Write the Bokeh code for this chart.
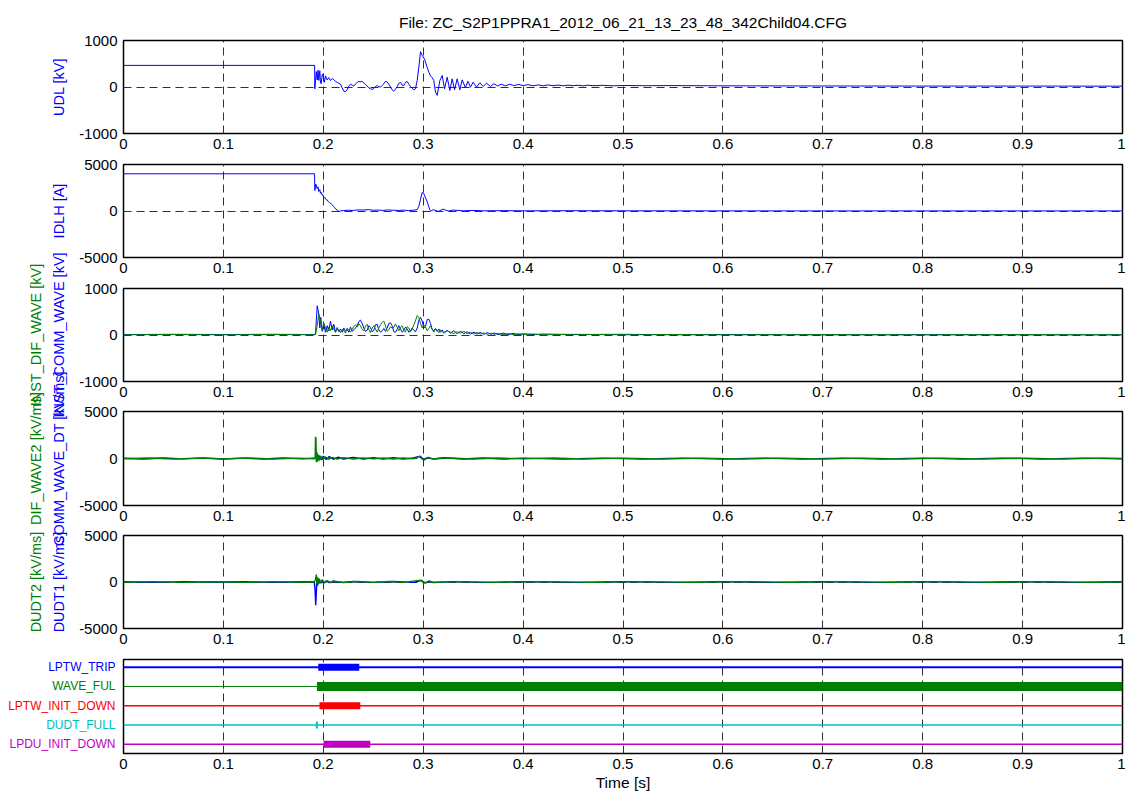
import math
from bokeh.plotting import figure
from bokeh.layouts import column, row
from bokeh.models import Range1d, FixedTicker
from bokeh.core.properties import value
from bokeh.embed import file_html
from bokeh.resources import INLINE

FONT = "Liberation Sans"

# ---------------- data ----------------
title_text = "File: ZC_S2P1PPRA1_2012_06_21_13_23_48_342Child04.CFG"
x_ticks = [0, 0.1, 0.2, 0.3, 0.4, 0.5, 0.6, 0.7, 0.8, 0.9, 1.0]
x_tick_labels = ["0", "0.1", "0.2", "0.3", "0.4", "0.5", "0.6", "0.7", "0.8", "0.9", "1"]
y_ticks_kv = [-1000, 0, 1000]
y_labels_kv = ["-1000", "0", "1000"]
y_ticks_5k = [-5000, 0, 5000]
y_labels_5k = ["-5000", "0", "5000"]

# Panel 1: UDL [kV]
udl = [(0, 465), (0.1913, 465), (0.1915, -40), (0.1922, 120), (0.1930, 330), (0.1939, 150),
       (0.1947, 360), (0.1955, 140), (0.1965, 350), (0.1972, 90), (0.1979, 70), (0.1990, 280),
       (0.1999, 250), (0.2010, 100), (0.2022, 240), (0.2039, 150), (0.2055, 200), (0.2072, 140),
       (0.2089, 180), (0.2105, 160), (0.2122, 120), (0.2139, 100), (0.2156, 80), (0.2172, 60),
       (0.2189, -20), (0.2206, -90), (0.2222, -100), (0.2239, -60), (0.2256, 20), (0.2272, 60),
       (0.2289, 40), (0.2306, 20), (0.2322, 60), (0.2339, 100), (0.2356, 120), (0.2372, 110),
       (0.2389, 120), (0.2406, 90), (0.2422, 60), (0.2439, 20), (0.2456, -20), (0.2472, -40),
       (0.2489, -50), (0.2506, -30), (0.2522, 10), (0.2539, 30), (0.2556, 10), (0.2573, 0),
       (0.2589, 30), (0.2606, 70), (0.2622, 120), (0.2639, 110), (0.2656, 60), (0.2673, 0),
       (0.2689, -60), (0.2706, -90), (0.2722, -50), (0.2739, 10), (0.2756, 80), (0.2773, 100),
       (0.2789, 40), (0.2806, 30), (0.2822, 100), (0.2839, 120), (0.2856, 60), (0.2873, 10),
       (0.2889, -30), (0.2906, -60), (0.2922, -40), (0.2940, 140), (0.2956, 420), (0.2973, 760),
       (0.2990, 680), (0.3013, 600), (0.3040, 420), (0.3056, 320), (0.3073, 240), (0.3090, 200),
       (0.3106, 140), (0.3123, -110), (0.3140, -180), (0.3167, 140), (0.3190, 247), (0.3214, -39),
       (0.3240, 211), (0.3267, -75), (0.3290, 176), (0.3314, -61), (0.3340, 176), (0.3367, -61),
       (0.3390, 154), (0.3423, -18), (0.3447, 125), (0.3473, -4), (0.3500, 104), (0.3534, -4),
       (0.3567, 90), (0.3600, 11), (0.3634, 82), (0.3674, 11), (0.3707, 68), (0.3747, 20),
       (0.3780, 61), (0.3824, 25), (0.3867, 61), (0.3907, 30), (0.3957, 55), (0.40, 30),
       (0.405, 50), (0.41, 25), (0.415, 45), (0.42, 25), (0.425, 45), (0.43, 28), (0.435, 42),
       (0.44, 25), (0.445, 40), (0.45, 28), (0.455, 38), (0.46, 25), (0.465, 38), (0.47, 28),
       (0.48, 36), (0.49, 25), (0.50, 32), (0.52, 28), (0.55, 30), (0.6, 25), (0.7, 22),
       (0.8, 20), (0.9, 20), (1.0, 18)]

# Panel 2: IDLH [A]
idlh = [(0, 4000), (0.1913, 4000), (0.1915, 2200), (0.1925, 2900), (0.1939, 2400), (0.1947, 2600),
        (0.1955, 2100), (0.1965, 2300), (0.1972, 1900), (0.1980, 2000), (0.1989, 1700), (0.1997, 1750),
        (0.2005, 1400), (0.2014, 1500), (0.2022, 1300), (0.2030, 1200), (0.2039, 1200), (0.2050, 1000),
        (0.2061, 900), (0.2072, 850), (0.2085, 700), (0.2095, 600), (0.2105, 500), (0.2115, 350),
        (0.2125, 200), (0.2139, 100), (0.2156, -50), (0.2175, 20), (0.22, 50), (0.225, 80),
        (0.23, 60), (0.235, 120), (0.24, 100), (0.245, 150), (0.25, 80), (0.255, 100), (0.26, 60),
        (0.265, 120), (0.27, 80), (0.275, 60), (0.28, 90), (0.285, 50), (0.29, 80), (0.2940, 150),
        (0.2956, 500), (0.2972, 1200), (0.2990, 2000), (0.3005, 1900), (0.3020, 1500), (0.3040, 1000),
        (0.3055, 500), (0.3066, 130), (0.3080, 0), (0.31, 150), (0.315, -50), (0.32, 200),
        (0.325, 0), (0.33, 100), (0.34, 20), (0.35, 60), (0.36, 20), (0.38, 40), (0.40, 20),
        (0.45, 30), (0.5, 20), (0.6, 15), (0.7, 10), (0.8, 10), (0.9, 10), (1.0, 10)]

# Panel 3: INST_COMM_WAVE (blue) / INST_DIF_WAVE (green) [kV]
inst_comm = [(0, 10), (0.05, 15), (0.1, 10), (0.15, 15), (0.19, 10), (0.1922, 20), (0.1939, 630),
             (0.1955, 450), (0.1965, 150), (0.1975, 380), (0.1989, 80), (0.2005, 230), (0.2022, 60),
             (0.2039, 200), (0.2055, 90), (0.2072, 300), (0.2089, 110), (0.2105, 230), (0.2122, 60),
             (0.2139, 160), (0.2156, 70), (0.2172, 130), (0.2189, 60), (0.2206, 150), (0.2222, 80),
             (0.2239, 120), (0.2256, 60), (0.2272, 170), (0.2289, 80), (0.2306, 110), (0.2322, 150),
             (0.2339, 200), (0.2356, 290), (0.2372, 320), (0.2389, 250), (0.2406, 150), (0.2422, 80),
             (0.2439, 100), (0.2456, 200), (0.2472, 160), (0.2489, 70), (0.2506, 100), (0.2522, 220),
             (0.2539, 230), (0.2556, 110), (0.2573, 60), (0.2589, 90), (0.2606, 140), (0.2622, 80),
             (0.2639, 150), (0.2656, 250), (0.2673, 260), (0.2689, 200), (0.2706, 70), (0.2722, 60),
             (0.2739, 120), (0.2756, 200), (0.2773, 130), (0.2789, 60), (0.2806, 100), (0.2822, 170),
             (0.2839, 130), (0.2856, 60), (0.2873, 90), (0.2889, 150), (0.2906, 100), (0.2922, 70),
             (0.2940, 150), (0.2957, 320), (0.2973, 380), (0.2990, 300), (0.3006, 150), (0.3023, 180),
             (0.3040, 330), (0.3057, 340), (0.3073, 250), (0.3090, 120), (0.3106, 90), (0.3123, 140),
             (0.3140, 80), (0.3157, 130), (0.3173, 60), (0.3190, 110), (0.3206, 50), (0.3240, 100),
             (0.3273, 40), (0.3307, 90), (0.3340, 30), (0.3373, 80), (0.3407, 30), (0.3440, 70),
             (0.3473, 20), (0.3507, 60), (0.354, 20), (0.357, 55), (0.361, 15), (0.364, 50),
             (0.368, 15), (0.371, 45), (0.375, 10), (0.38, 40), (0.385, 10), (0.39, 35), (0.395, 10),
             (0.40, 25), (0.41, 10), (0.42, 20), (0.45, 10), (0.5, 15), (0.55, 5), (0.6, 10),
             (0.7, 5), (0.8, 8), (0.9, 5), (1.0, 5)]
inst_dif = [(0, 5), (0.05, 10), (0.1, 5), (0.15, 10), (0.19, 5), (0.1922, 10), (0.1939, 200),
            (0.1955, 450), (0.1972, 300), (0.1989, 100), (0.2005, 260), (0.2022, 150), (0.2039, 60),
            (0.2055, 170), (0.2072, 90), (0.2089, 200), (0.2105, 120), (0.2122, 60), (0.2139, 140),
            (0.2156, 100), (0.2172, 50), (0.2189, 120), (0.2206, 90), (0.2222, 40), (0.2239, 150),
            (0.2256, 100), (0.2272, 60), (0.2289, 120), (0.2306, 180), (0.2322, 220), (0.2339, 170),
            (0.2356, 240), (0.2372, 200), (0.2389, 120), (0.2406, 90), (0.2422, 190), (0.2439, 230),
            (0.2456, 120), (0.2472, 50), (0.2489, 150), (0.2506, 200), (0.2522, 130), (0.2539, 60),
            (0.2556, 150), (0.2573, 220), (0.2589, 270), (0.2606, 300), (0.2622, 200), (0.2639, 80),
            (0.2656, 110), (0.2673, 180), (0.2689, 150), (0.2706, 160), (0.2722, 240), (0.2739, 170),
            (0.2756, 90), (0.2773, 170), (0.2789, 200), (0.2806, 100), (0.2822, 60), (0.2839, 180),
            (0.2856, 150), (0.2873, 70), (0.2889, 130), (0.2906, 220), (0.2922, 300), (0.2940, 420),
            (0.2957, 380), (0.2973, 250), (0.2990, 150), (0.3006, 220), (0.3023, 170), (0.3040, 90),
            (0.3057, 140), (0.3073, 200), (0.3090, 120), (0.3106, 60), (0.3123, 130), (0.3140, 110),
            (0.3157, 50), (0.3173, 110), (0.3190, 80), (0.3206, 40), (0.3240, 90), (0.3273, 60),
            (0.3307, 30), (0.3340, 70), (0.3373, 40), (0.3407, 80), (0.3440, 30), (0.3473, 60),
            (0.3507, 20), (0.354, 55), (0.357, 20), (0.361, 45), (0.364, 15), (0.368, 40),
            (0.371, 15), (0.375, 35), (0.38, 10), (0.385, 30), (0.39, 10), (0.395, 25), (0.40, 10),
            (0.41, 20), (0.42, 5), (0.45, 15), (0.5, 5), (0.55, 10), (0.6, 5), (0.7, 8), (0.8, 5),
            (0.9, 8), (1.0, 5)]

# Panel 4: COMM_WAVE_DT (blue) / DIF_WAVE2 (green) [kV/ms]
comm_wave_dt = [(0, 30), (0.02, -60), (0.04, 50), (0.06, -40), (0.08, 60), (0.10, -50), (0.12, 40),
                (0.14, -60), (0.16, 50), (0.18, -40), (0.19, 40), (0.1925, 0), (0.1932, 700),
                (0.1938, -300), (0.1945, 400), (0.1955, -200), (0.1965, 300), (0.198, -150), (0.2, 250),
                (0.203, -100), (0.206, 200), (0.21, -80), (0.215, 150), (0.22, -60), (0.23, 100),
                (0.24, -60), (0.25, 80), (0.26, -50), (0.27, 80), (0.28, -60), (0.29, 60), (0.297, 250),
                (0.301, -150), (0.305, 120), (0.31, -60), (0.32, 80), (0.34, -50), (0.36, 60),
                (0.38, -50), (0.40, 40), (0.44, -50), (0.48, 40), (0.52, -50), (0.56, 40), (0.60, -50),
                (0.64, 40), (0.68, -50), (0.72, 40), (0.76, -50), (0.80, 40), (0.84, -50), (0.88, 40),
                (0.92, -50), (0.96, 40), (1.0, -30)]
dif_wave2 = [(0, -30), (0.025, 50), (0.05, -50), (0.075, 40), (0.10, -40), (0.125, 50), (0.15, -50),
             (0.175, 40), (0.19, -30), (0.1918, 0), (0.1922, 2300), (0.1927, 2100), (0.1931, -400),
             (0.1937, 600), (0.1944, -300), (0.1952, 400), (0.196, -200), (0.1975, 250), (0.199, -120),
             (0.202, 180), (0.205, -80), (0.209, 120), (0.214, -60), (0.22, 90), (0.23, -50),
             (0.24, 70), (0.25, -40), (0.26, 60), (0.27, -50), (0.28, 60), (0.29, -40), (0.296, 200),
             (0.3, -120), (0.304, 100), (0.31, -50), (0.325, 60), (0.35, -50), (0.375, 50), (0.40, -40),
             (0.43, 50), (0.46, -50), (0.50, 40), (0.54, -50), (0.58, 40), (0.62, -50), (0.66, 40),
             (0.70, -50), (0.74, 40), (0.78, -50), (0.82, 40), (0.86, -50), (0.90, 40), (0.94, -50),
             (0.98, 40), (1.0, 0)]

# Panel 5: DUDT1 (blue) / DUDT2 (green) [kV/ms]
dudt1 = [(0, 20), (0.03, -40), (0.06, 40), (0.09, -30), (0.12, 40), (0.15, -40), (0.18, 30),
         (0.191, 0), (0.1918, -900), (0.1924, -2500), (0.1930, -1200), (0.1936, 300), (0.1943, -400),
         (0.195, 200), (0.196, -100), (0.198, 150), (0.2, -80), (0.203, 100), (0.206, -60),
         (0.21, 80), (0.22, -40), (0.23, 60), (0.25, -40), (0.27, 50), (0.29, -40), (0.298, 150),
         (0.302, -100), (0.306, 80), (0.31, -50), (0.33, 40), (0.36, -40), (0.40, 40), (0.45, -40),
         (0.50, 40), (0.55, -40), (0.60, 40), (0.65, -40), (0.70, 40), (0.75, -40), (0.80, 40),
         (0.85, -40), (0.90, 40), (0.95, -40), (1.0, 20)]
dudt2 = [(0, -20), (0.03, 40), (0.06, -40), (0.09, 30), (0.12, -40), (0.15, 40), (0.18, -30),
         (0.191, 0), (0.1922, 300), (0.1930, 800), (0.1937, -300), (0.1945, 500), (0.1953, -200),
         (0.196, 350), (0.1975, -150), (0.199, 250), (0.201, -100), (0.204, 150), (0.207, -60),
         (0.21, 100), (0.22, -50), (0.235, 60), (0.25, -40), (0.265, 50), (0.28, -40), (0.298, 200),
         (0.302, -120), (0.306, 90), (0.31, -40), (0.34, 40), (0.37, -40), (0.42, 40), (0.47, -40),
         (0.52, 40), (0.57, -40), (0.62, 40), (0.67, -40), (0.72, 40), (0.77, -40), (0.82, 40),
         (0.87, -40), (0.92, 40), (0.97, -40), (1.0, 0)]

# Panel 6: digital channels
dig_names = ["LPTW_TRIP", "WAVE_FUL", "LPTW_INIT_DOWN", "DUDT_FULL", "LPDU_INIT_DOWN"]
dig_levels = [5, 4, 3, 2, 1]
dig_on_start = [0.1950, 0.1936, 0.1962, 0.1925, 0.2003]
dig_on_end = [0.2360, 1.0, 0.2370, 0.1945, 0.2470]

# ---------------- styles ----------------
BLUE = "#0000ff"
GREEN = "#008000"
dig_colors = ["#0000ff", "#008000", "#ff0000", "#00bfbf", "#bf00bf"]
dig_thin = [2, 1, 1.5, 1.5, 1.5]
dig_thick = [7, 9, 7, 7, 7]
TICK_FS = "15px"
GRID_DASH = "8 5"
GRID_COLOR = "#303030"


def unzip(pairs):
    return [a for a, _ in pairs], [b for _, b in pairs]


def style_common(p):
    p.background_fill_color = "white"
    p.border_fill_color = "white"
    p.outline_line_color = "black"
    p.outline_line_width = 1.5
    p.outline_line_alpha = 1.0
    for ax in p.axis:
        ax.axis_line_color = None
        ax.major_tick_line_color = None
        ax.minor_tick_line_color = None
        ax.major_tick_out = 0
        ax.major_tick_in = 0
        ax.minor_tick_out = 0
        ax.minor_tick_in = 0
        ax.major_label_text_font = FONT
        ax.major_label_text_font_size = TICK_FS
        ax.major_label_text_color = "black"
    p.xaxis.ticker = FixedTicker(ticks=x_ticks)
    p.xaxis.major_label_overrides = {t: s for t, s in zip(x_ticks, x_tick_labels)}
    p.xaxis.major_label_standoff = 5
    p.xgrid.grid_line_color = GRID_COLOR
    p.xgrid.grid_line_dash = GRID_DASH
    p.xgrid.grid_line_width = 1


def make_panel(height, top, bottom, yticks, ylabels):
    p = figure(width=1057, height=height, x_range=Range1d(0, 1),
               y_range=Range1d(yticks[0], yticks[-1]),
               output_backend="svg", toolbar_location=None,
               min_border_left=55, min_border_right=3,
               min_border_top=top, min_border_bottom=bottom)
    style_common(p)
    p.yaxis.ticker = FixedTicker(ticks=yticks)
    p.yaxis.major_label_overrides = {t: s for t, s in zip(yticks, ylabels)}
    p.yaxis.major_label_standoff = 6
    p.ygrid.grid_line_color = GRID_COLOR
    p.ygrid.grid_line_dash = GRID_DASH
    p.ygrid.grid_line_width = 1
    return p


p1 = make_panel(155, 40, 22, y_ticks_kv, y_labels_kv)
p1.title.text = title_text
p1.title.align = "center"
p1.title.text_font = FONT
p1.title.text_font_size = "15.5px"
p1.title.text_font_style = "normal"
p1.title.text_color = "black"
p1.title.standoff = 19
t, v = unzip(udl)
p1.line(t, v, line_color=BLUE, line_width=1)

p2 = make_panel(124, 9, 22, y_ticks_5k, y_labels_5k)
t, v = unzip(idlh)
p2.line(t, v, line_color=BLUE, line_width=1)

p3 = make_panel(124, 9, 22, y_ticks_kv, y_labels_kv)
t, v = unzip(inst_comm)
p3.line(t, v, line_color=BLUE, line_width=1)
t, v = unzip(inst_dif)
p3.line(t, v, line_color=GREEN, line_width=1)

p4 = make_panel(124, 8, 22, y_ticks_5k, y_labels_5k)
t, v = unzip(comm_wave_dt)
p4.line(t, v, line_color=BLUE, line_width=1.4)
t, v = unzip(dif_wave2)
p4.line(t, v, line_color=GREEN, line_width=1.4)

p5 = make_panel(123, 8, 22, y_ticks_5k, y_labels_5k)
t, v = unzip(dudt1)
p5.line(t, v, line_color=BLUE, line_width=1.4)
t, v = unzip(dudt2)
p5.line(t, v, line_color=GREEN, line_width=1.4)

# Digital panel
dig_range = Range1d(0.52, 5.4)
p6 = figure(width=1007, height=144, x_range=Range1d(0, 1), y_range=dig_range,
            output_backend="svg", toolbar_location=None, y_axis_location=None,
            min_border_left=5, min_border_right=3, min_border_top=9, min_border_bottom=41)
style_common(p6)
p6.ygrid.visible = False
p6.xaxis.axis_label = "Time [s]"
p6.xaxis.axis_label_text_font = FONT
p6.xaxis.axis_label_text_font_size = "15.5px"
p6.xaxis.axis_label_text_font_style = "normal"
p6.xaxis.axis_label_text_color = "black"
p6.xaxis.axis_label_standoff = 2
p6.segment(x0=[0] * 5, x1=[1] * 5, y0=dig_levels, y1=dig_levels,
           line_color=dig_colors, line_width=dig_thin)
p6.segment(x0=dig_on_start, x1=dig_on_end, y0=dig_levels, y1=dig_levels,
           line_color=dig_colors, line_width=dig_thick, line_cap="butt")

# channel names to the left of the digital panel (sharing its vertical scale)
lf6 = figure(width=118, height=144, x_range=Range1d(0, 118), y_range=dig_range,
             output_backend="svg", toolbar_location=None,
             x_axis_location=None, y_axis_location=None,
             min_border_left=0, min_border_right=0, min_border_top=9, min_border_bottom=41)
lf6.grid.visible = False
lf6.outline_line_color = None
lf6.background_fill_color = "white"
lf6.border_fill_color = "white"
lf6.text(x=[115] * 5, y=dig_levels, text=dig_names, text_color=dig_colors,
         text_font=value(FONT), text_font_size="12px", text_align="right",
         text_baseline="middle")

# Left strip with the rotated channel titles (they overlap between panels, as in the original)
H = 650
lf = figure(width=68, height=H, x_range=Range1d(0, 68), y_range=Range1d(0, H),
            output_backend="svg", toolbar_location=None,
            x_axis_location=None, y_axis_location=None, min_border=0)
lf.grid.visible = False
lf.outline_line_color = None
lf.background_fill_color = "white"
lf.border_fill_color = "white"
ylab_text = ["UDL [kV]", "IDLH [A]", "INST_COMM_WAVE [kV]", "INST_DIF_WAVE [kV]",
             "COMM_WAVE_DT [kV/ms]", "DIF_WAVE2 [kV/ms]", "DUDT1 [kV/ms]", "DUDT2 [kV/ms]"]
ylab_color = [BLUE, BLUE, BLUE, GREEN, BLUE, GREEN, BLUE, GREEN]
ylab_x = [58, 58, 58, 35.5, 58, 35.5, 58, 35.5]
ylab_y = [H - 86.5, H - 210.5, H - 334.5, H - 334.5, H - 458, H - 458, H - 581.5, H - 581.5]
lf.text(x=ylab_x, y=ylab_y, text=ylab_text, text_color=ylab_color, angle=math.pi / 2,
        text_font=value(FONT), text_font_size="14.5px", text_align="center",
        text_baseline="middle")

layout = column(row(lf, column(p1, p2, p3, p4, p5)), row(lf6, p6))
open("out.html", "w").write(file_html(layout, INLINE))
